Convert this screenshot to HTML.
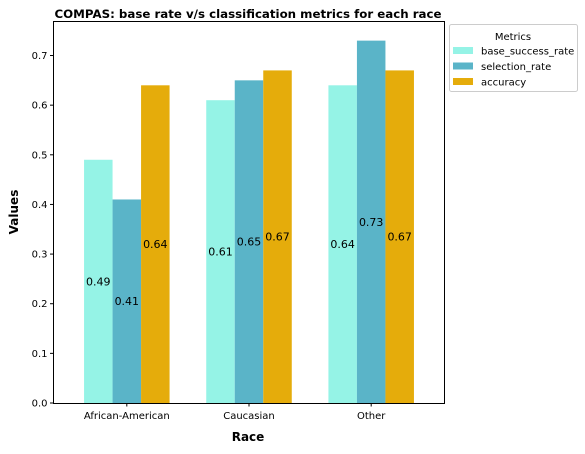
<!DOCTYPE html>
<html><head><meta charset="utf-8"><style>
body{margin:0;background:#fff;font-family:"DejaVu Sans","Liberation Sans",sans-serif}
svg text{font-family:"DejaVu Sans","Liberation Sans",sans-serif}
</style></head><body>
<svg id="c" width="585" height="450" xmlns="http://www.w3.org/2000/svg">
<text x="248" y="18" text-anchor="middle" font-size="11.8" font-weight="bold">COMPAS: base rate v/s classification metrics for each race</text>
<text x="248" y="441" text-anchor="middle" font-size="12" font-weight="bold">Race</text>
<text transform="translate(18,212) rotate(-90)" text-anchor="middle" font-size="12" font-weight="bold">Values</text>
<g id="plot"></g>
<rect x="53.5" y="21.5" width="391" height="382" fill="none" stroke="#000" stroke-width="1"/>
<g>
<rect x="449.5" y="24.5" width="128" height="67" rx="2" fill="#fff" stroke="#ccc"/>
<text x="513" y="40" text-anchor="middle" font-size="10">Metrics</text>
<g id="leg"></g>
</g>
</svg>
<script>
const categories=["African-American","Caucasian","Other"];
const seriesNames=["base_success_rate","selection_rate","accuracy"];
const baseSuccess=[0.49,0.61,0.64];
const selectionRate=[0.41,0.65,0.73];
const accuracy=[0.64,0.67,0.67];
const yTicks=[0,0.1,0.2,0.3,0.4,0.5,0.6,0.7];
const colors=["#95f3e6","#5ab4c8","#e5ac0b"];
const series=[baseSuccess,selectionRate,accuracy];
const NS="http://www.w3.org/2000/svg";
const x0=53.5,x1=444.5,yb=403,yt=21.5;
const xs=i=>x0+(i+0.6)*(x1-x0)/3.2;
const ys=v=>yb-v*496.4;
const bw=0.2333*(x1-x0)/3.2;
const g=document.getElementById('plot');
function mk(t,a){const e=document.createElementNS(NS,t);for(const k in a)e.setAttribute(k,a[k]);return e;}
yTicks.forEach(v=>{
 const y=ys(v);
 const l=mk('line',{x1:x0-3.5,x2:x0,y1:y,y2:y,stroke:'#000'});
 
 
 g.appendChild(l);
 const t=mk('text',{x:x0-6,y:y+3.5,'text-anchor':'end','font-size':'10'});
 t.textContent=v.toFixed(1);
 
 
 g.appendChild(t);
});
categories.forEach((c,i)=>{
 const x=xs(i);
 const l=mk('line',{x1:x,x2:x,y1:yb,y2:yb+3.5,stroke:'#000'});
 
 
 g.appendChild(l);
 const t=mk('text',{x:x,y:yb+16,'text-anchor':'middle','font-size':'10'});
 t.textContent=c;
 
 
 g.appendChild(t);
 series.forEach((s,j)=>{
  const cx=x+(j-1)*bw;
  const r=mk('rect',{x:cx-bw/2,y:ys(s[i]),width:bw,height:yb-ys(s[i]),fill:colors[j]});
  
  
  g.appendChild(r);
 });
 series.forEach((s,j)=>{
  const cx=x+(j-1)*bw;
  const t=mk('text',{x:cx,y:ys(s[i]/2)+4,'text-anchor':'middle','font-size':'11'});
  t.textContent=s[i].toFixed(2);
  
  
  g.appendChild(t);
 });
});
const lg=document.getElementById('leg');
seriesNames.forEach((n,j)=>{
 const y=51+j*15.5;
 const r=mk('rect',{x:453,y:y-4,width:20,height:7,fill:colors[j]});
 
 
 lg.appendChild(r);
 const t=mk('text',{x:481,y:y+3.5,'font-size':'10'});
 t.textContent=n;
 
 
 lg.appendChild(t);
});
</script>
</body></html>
